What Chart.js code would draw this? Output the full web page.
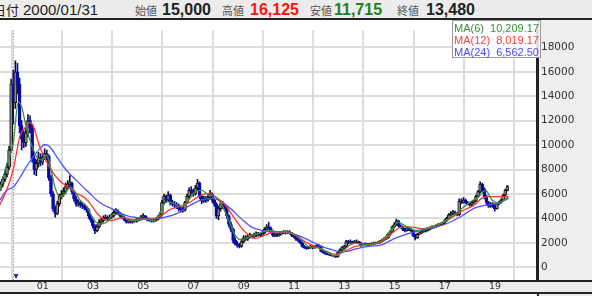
<!DOCTYPE html>
<html><head><meta charset="utf-8">
<script src="https://cdn.jsdelivr.net/npm/chart.js@4/dist/chart.umd.min.js"></script>
<style>
html,body{margin:0;padding:0}
body{width:592px;height:296px;overflow:hidden;background:#fff;position:relative;font-family:"Liberation Sans",Arial,sans-serif}
.abs{position:absolute;white-space:nowrap}
#hdr{left:0;top:0;width:592px;height:18px;background:#ececec;border-bottom:2px solid #222}
.lab{font-family:"Noto Sans CJK JP",sans-serif;font-size:11px;color:#555;top:1px;line-height:18px}
.num{font-size:16px;font-weight:bold;top:0;line-height:20px;color:#222}
#rside{left:537px;top:20px;width:55px;height:276px;background:#efefef;border-left:2px solid #222;box-sizing:border-box}
#band{left:0;top:280px;width:592px;height:14px;background:#ececec;border-top:2px solid #222;border-bottom:2px solid #222;box-sizing:border-box}
#chartbox{left:0;top:20px;width:592px;height:273px}
#legend{left:452px;top:20px;width:89px;height:38px;background:rgba(255,255,255,0.85);border:1px solid #999;box-sizing:border-box;font-size:11px;z-index:5}
#legend div{position:absolute;left:1px;right:1px;height:12px;line-height:12px}
#legend span{position:absolute;right:0}
</style></head>
<body>
<div id="hdr" class="abs"></div>
<div id="rside" class="abs"></div>
<div id="band" class="abs"></div>
<div class="abs" style="left:-7px;top:0;font-family:'Noto Sans CJK JP',sans-serif;font-size:13px;line-height:19px;color:#222">日付</div>
<div class="abs" style="left:23px;top:0;font-size:15px;line-height:20px;color:#222">2000/01/31</div>
<div class="abs lab" style="left:135px">始値</div>
<div class="abs num" style="left:162px">15,000</div>
<div class="abs lab" style="left:222px">高値</div>
<div class="abs num" style="left:250px;color:#ff1010">16,125</div>
<div class="abs lab" style="left:310px">安値</div>
<div class="abs num" style="left:334px;color:#1f7f1f">11,715</div>
<div class="abs lab" style="left:397px">終値</div>
<div class="abs num" style="left:426px">13,480</div>
<div id="chartbox" class="abs"><canvas id="c" width="592" height="273"></canvas></div>
<div id="legend" class="abs">
 <div style="top:1px;color:#3a8f3a">MA(6)<span>10,209.17</span></div>
 <div style="top:13px;color:#ff3b3b">MA(12)<span>8,019.17</span></div>
 <div style="top:25px;color:#4a4aff">MA(24)<span>6,562.50</span></div>
</div>
<script>
// ---- data (month index: 0 = 2000/01) ----
const firstMonth = -6; // 1999/07
const opens = [6500,6800,7200,7600,8200,9600,15000,13480,16000,15000,11600,10500,10200,11000,12000,11400,8900,8000,8500,9000,8600,9000,9300,9100,7300,6000,4800,4400,5200,5800,6000,6200,6600,6800,6900,6200,5600,5200,5300,5100,5000,4900,4700,4200,3900,3400,3000,3300,3700,3800,4000,4100,4000,4100,4200,4500,4600,4400,4200,4100,3900,3700,3800,3700,3800,3800,3900,3900,4100,4200,4000,3900,3850,3800,3800,3900,4100,4300,5300,5800,5500,5900,5300,5200,5100,5000,4800,4700,4700,5300,5800,6300,6200,6000,6500,6900,5800,5400,5600,5500,5700,6000,5500,5200,4200,4800,5200,5000,4900,4200,3500,3100,2200,1900,1800,1700,2100,2400,2300,2500,2600,2500,2600,2700,2700,2600,2800,3100,3300,3200,2900,2600,2700,2600,2700,2800,2900,2800,2900,2800,2600,2500,2300,2200,2000,1700,1600,1550,1600,1700,1600,1650,1800,1700,1300,1200,1100,1050,1000,950,900,850,1200,1400,1600,1700,2100,2000,2100,2000,2100,2100,2000,1800,1850,1900,1800,1850,1900,1950,1950,2000,2100,2200,2300,2400,2700,2900,3300,3500,3800,3400,3300,3100,3000,3200,3100,3000,2600,2400,2700,2800,2900,3000,3000,3100,3200,3300,3300,3400,3500,3500,3600,3800,4000,4300,4400,4500,4400,4300,5400,5300,5500,5300,5200,5100,5300,5400,5800,6200,6800,6400,5800,5300,5000,5200,5000,4800,5200,5300,5500,5900,6300];
const highs = [7000,7400,7900,8500,9900,15400,16125,16900,16700,15500,12000,11200,11400,12500,12400,11700,9300,8800,9400,9300,9300,9700,9600,9200,7500,6200,5000,5400,6000,6300,6500,6900,7100,7500,7000,6300,5800,5500,5400,5300,5200,5000,4800,4300,4000,3500,3500,3900,4000,4200,4300,4200,4300,4400,4700,4800,4700,4500,4300,4200,4000,3900,3900,3900,3950,4000,4050,4250,4400,4250,4100,4000,3950,3950,4000,4200,4500,5500,6000,5900,6200,6000,5500,5400,5300,5200,5000,4900,5400,6000,6500,6600,6400,6700,7200,7000,5900,5800,5800,5900,6300,6100,5600,5300,5000,5400,5400,5200,5000,4300,3700,3200,2400,2100,1950,2300,2600,2600,2700,2800,2700,2800,2900,2850,2800,2950,3250,3500,3700,3300,3000,2800,2800,2800,2950,3000,3000,3000,3000,2850,2700,2550,2400,2250,2050,1800,1700,1700,1800,1750,1750,1900,1850,1750,1350,1250,1150,1100,1050,1000,950,1250,1500,1700,1800,2200,2200,2250,2150,2200,2250,2150,2050,1950,2000,1950,1950,2000,2050,2050,2100,2200,2300,2400,2500,2800,3000,3400,3650,3940,3850,3500,3400,3200,3300,3300,3200,3050,2700,2800,2900,3000,3100,3100,3200,3300,3400,3400,3500,3600,3600,3700,3900,4100,4400,4550,4650,4600,4500,5600,5600,5700,5600,5400,5300,5400,5500,5900,6300,7000,6900,6500,5900,5400,5300,5300,5100,5300,5400,5600,6000,6400,6700];
const lows = [6300,6600,7000,7400,8000,9400,11715,13000,14200,11000,9600,9800,9900,10700,11000,8600,7600,7500,8200,8300,8400,8800,8800,7100,5800,4600,4100,4300,5000,5600,5800,6000,6400,6500,6000,5400,5000,5000,4900,4800,4700,4500,4000,3700,3200,2750,2900,3200,3500,3700,3900,3800,3900,4000,4100,4300,4300,4100,4000,3800,3600,3600,3600,3600,3700,3700,3800,3850,4000,3900,3800,3750,3700,3700,3750,3850,4000,4200,5200,5300,5400,5100,5000,4900,4800,4600,4500,4500,4600,5200,5700,6000,5800,5900,6300,5600,5200,5300,5300,5400,5600,5300,5000,4000,3900,4600,4800,4700,4000,3300,2900,2000,1800,1650,1575,1650,2000,2200,2200,2400,2400,2400,2500,2550,2500,2550,2750,3000,3100,2800,2500,2500,2500,2550,2650,2750,2700,2750,2700,2500,2400,2200,2100,1900,1650,1550,1450,1500,1550,1500,1550,1600,1600,1250,1150,1050,1000,950,900,850,790,830,1150,1350,1500,1650,1900,1950,1900,1950,2000,1900,1700,1750,1800,1700,1750,1800,1850,1880,1900,1950,2050,2150,2250,2350,2600,2850,3200,3400,3300,3200,3000,2900,2950,3000,2900,2500,2230,2350,2650,2750,2850,2900,2950,3050,3150,3200,3250,3350,3400,3450,3550,3750,3950,4200,4300,4300,4200,4250,5200,5250,5200,5100,5000,5050,5200,5350,5700,6100,6200,5600,5100,4900,4900,4900,4600,4750,5100,5250,5450,5850,6250];
const closes = [6800,7200,7600,8200,9600,15000,13480,16000,15000,11600,10500,10200,11000,12000,11400,8900,8000,8500,9000,8600,9000,9300,9100,7300,6000,4800,4400,5200,5800,6000,6200,6600,6800,6900,6200,5600,5200,5300,5100,5000,4900,4700,4200,3900,3400,3000,3300,3700,3800,4000,4100,4000,4100,4200,4500,4600,4400,4200,4100,3900,3700,3800,3700,3800,3800,3900,3900,4100,4200,4000,3900,3850,3800,3800,3900,4100,4300,5300,5800,5500,5900,5300,5200,5100,5000,4800,4700,4700,5300,5800,6300,6200,6000,6500,6900,5800,5400,5600,5500,5700,6000,5500,5200,4200,4800,5200,5000,4900,4200,3500,3100,2200,1900,1800,1700,2100,2400,2300,2500,2600,2500,2600,2700,2700,2600,2800,3100,3300,3200,2900,2600,2700,2600,2700,2800,2900,2800,2900,2800,2600,2500,2300,2200,2000,1700,1600,1550,1600,1700,1600,1650,1800,1700,1300,1200,1100,1050,1000,950,900,850,1200,1400,1600,1700,2100,2000,2100,2000,2100,2100,2000,1800,1850,1900,1800,1850,1900,1950,1950,2000,2100,2200,2300,2400,2700,2900,3300,3500,3800,3400,3300,3100,3000,3200,3100,3000,2600,2400,2700,2800,2900,3000,3000,3100,3200,3300,3300,3400,3500,3500,3600,3800,4000,4300,4400,4500,4400,4300,5400,5300,5500,5300,5200,5100,5300,5400,5800,6200,6800,6400,5800,5300,5000,5200,5000,4800,5200,5300,5500,5900,6300,6600];

// moving averages: month positions and values
const ma6X = [-6.4,-3.2,0,2.4,4,6.4,8.8,11.1,13.5,15.9,17.5,19.9,22.3,24.7,27.1,29.5,31.8,35,38.2,41.4,44.6,47.8,51,54.1,57.3,60.5,63.7,66.9,70.1,73.2,76.4,79,82,86.8,90.1,93.2,96.3,99.5,102.7,105.9,109.1,112.3,117.2,121.8,126.6,131.4,136.1,140.9,145.7,150.5,153.5,156.8,160,163.2,169.6,176,180.7,183.9,187.1,191.9,196.7,201.4,207.8,212.7,217.5,222.3,225.5,228.7,231.7,236.5];
const ma6 = [6300,8400,10209,13520,13130,11290,9980,9060,8790,9190,8400,6560,5780,6040,6560,6170,5510,4990,3940,3540,3680,4330,4330,3940,3810,3890,3940,3810,4460,5380,5250,4990,5120,6170,6300,5910,5780,5120,3940,2630,2230,2490,2760,3020,2890,2890,2490,1710,1580,1180,920,1180,1710,1970,1840,2230,3020,3680,3410,3020,3150,3410,3940,4590,5250,5780,6300,5510,5250,5780];
const ma12X = [-6.4,-3.2,0,3.2,5.6,8,9.6,11.9,14.3,17.5,20.7,23.9,27.1,30.3,33.4,36.6,39.8,43,46.2,49.4,52.5,55.7,58.9,62.1,65.3,68.5,71.7,74.8,78,83.6,88.4,93.2,96.4,101.1,105.9,110.7,115.5,120.2,125,129.8,134.6,139.3,144.1,148.9,153.7,156.8,160,163.2,169.6,176,180.7,185.5,190.3,195.1,201.4,207.8,214.2,220.5,223.7,226.9,233.3,236.5];
const ma12 = [5120,6300,8019,10760,11420,11870,11550,10240,9190,8140,7350,6830,6430,6040,5780,5250,4460,3940,3810,3940,4070,3940,3890,3940,3940,4070,4330,4730,4900,5250,5780,6040,5780,5120,3940,2890,2360,2630,2890,2890,2630,2100,1710,1370,1050,1180,1440,1700,1840,2100,2760,3280,3280,3150,3410,3890,4590,5120,5640,5780,5780,5780];
const ma24X = [-6.4,-3.2,0,3.2,6.4,9.6,12.7,15.1,17.5,20.7,23.9,27.1,30.3,33.4,36.6,39.8,43,46.2,49.4,52.5,55.7,58.9,62.1,65.3,68.5,71.7,74.8,79,83.6,90,94.7,99.5,104.3,109.1,113.9,118.6,123.4,128.2,133,137.7,142.5,147.3,152.1,156.8,160,163.2,169.6,176,182.3,188.7,195.1,201.4,207.8,214.2,220.5,226.9,231.7,236.5];
const ma24 = [5500,6300,6562,7350,8270,9060,9710,10050,9840,9060,8270,7610,7090,6560,6040,5510,5120,4860,4590,4330,4150,4070,3990,3990,3990,4070,4200,4460,4990,5510,5640,5380,4720,3940,3280,3020,2890,2890,2760,2490,2100,1710,1440,1260,1310,1480,1710,1840,2360,2760,3020,3280,3620,4200,4860,5120,5250,5640];

const yearLabels = ['01','03','05','07','09','11','13','15','17','19'];
const yTicks = [0,2000,4000,6000,8000,10000,12000,14000,16000,18000];
const cursorMonth = 0; // 2000/01/31

// ---- build ----
const months = closes.map((_, i) => firstMonth + i);
const up = closes.map((c, i) => c >= opens[i]);
const wickData = months.map((m, i) => ({x: m, y: [lows[i], highs[i]]}));
const bodyData = months.map((m, i) => ({x: m, y: [opens[i], closes[i]]}));
const pts = (xs, ys) => xs.map((x, i) => ({x, y: ys[i]}));

const cursorPlugin = {
  id: 'cursor',
  beforeDatasetsDraw(chart) {
    const {ctx, chartArea, scales} = chart;
    const x = Math.round(scales.x.getPixelForValue(cursorMonth)) + 0.5;
    ctx.save();
    ctx.strokeStyle = '#777'; ctx.lineWidth = 1; ctx.setLineDash([1, 2]);
    ctx.beginPath(); ctx.moveTo(x, chartArea.top); ctx.lineTo(x, chartArea.bottom); ctx.stroke();
    ctx.setLineDash([]);
    ctx.fillStyle = '#1a2ab0';
    const by = chartArea.bottom - 6;
    ctx.beginPath(); ctx.moveTo(x, by); ctx.lineTo(x + 5, by); ctx.lineTo(x + 2.5, by + 5); ctx.closePath(); ctx.fill();
    ctx.restore();
  }
};

new Chart(document.getElementById('c'), {
  type: 'bar',
  data: {
    datasets: [
      {type: 'line', label: 'MA(6)', data: pts(ma6X, ma6), borderColor: '#3a913a', borderWidth: 1.3, pointRadius: 0, cubicInterpolationMode: 'monotone', order: 0},
      {type: 'line', label: 'MA(12)', data: pts(ma12X, ma12), borderColor: '#ff3434', borderWidth: 1.3, pointRadius: 0, cubicInterpolationMode: 'monotone', order: 0},
      {type: 'line', label: 'MA(24)', data: pts(ma24X, ma24), borderColor: '#5050ff', borderWidth: 1.3, pointRadius: 0, cubicInterpolationMode: 'monotone', order: 0},
      {label: 'body', data: bodyData, grouped: false, barThickness: 3, borderWidth: 1, borderSkipped: false,
        backgroundColor: up.map(u => u ? '#8a8a8a' : '#0a0aa8'), borderColor: up.map(u => u ? '#111' : '#0a0aa8'), order: 1},
      {label: 'wick', data: wickData, grouped: false, barThickness: 1,
        backgroundColor: up.map(u => u ? '#111' : '#0a0aa8'), order: 2}
    ]
  },
  options: {
    responsive: false, animation: false, events: [],
    layout: {padding: 0},
    plugins: {legend: {display: false}, tooltip: {enabled: false}},
    scales: {
      x: {
        type: 'linear', min: -6.35, max: 250.15, offset: false,
        afterBuildTicks: s => { s.ticks = yearLabels.map(l => ({value: Number(l) * 12 - 0.8})); },
        afterFit: s => { s.height = 13; },
        grid: {color: '#dcdcdc', lineWidth: 2, drawTicks: false},
        border: {display: false},
        ticks: {align: 'start', padding: 1, autoSkip: false, maxRotation: 0, color: '#333',
          font: {family: 'DejaVu Sans', size: 9.5},
          callback: (v, i) => yearLabels[i]}
      },
      y: {
        type: 'linear', position: 'right', min: -1046, max: 19403,
        afterBuildTicks: s => { s.ticks = yTicks.map(v => ({value: v})); },
        afterFit: s => { s.width = 55; },
        grid: {color: '#dcdcdc', lineWidth: 2, drawTicks: false},
        border: {display: true, color: '#222', width: 2},
        ticks: {padding: 4, color: '#333', font: {family: 'DejaVu Sans', size: 10.5}, callback: v => String(v)}
      }
    }
  },
  plugins: [cursorPlugin]
});
</script>
</body></html>
